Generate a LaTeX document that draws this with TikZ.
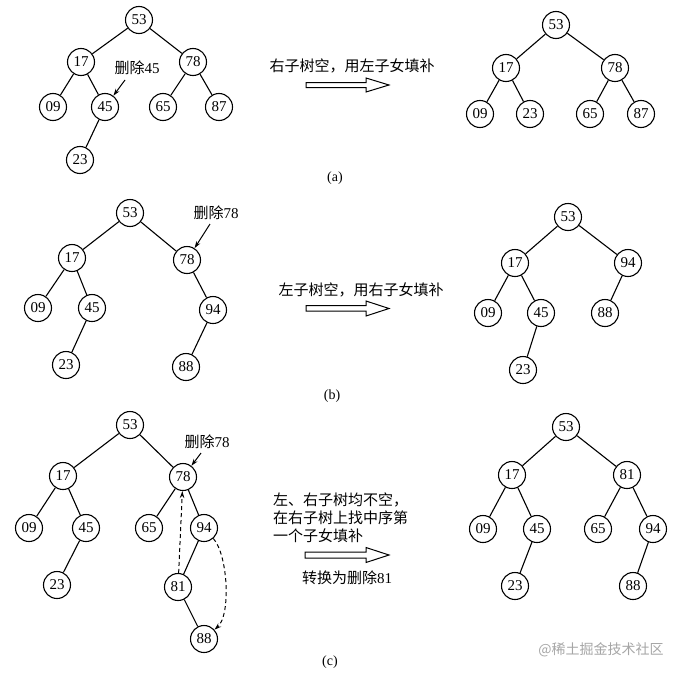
\documentclass[tikz,border=0pt]{standalone}
\usepackage{fontspec}
\setmainfont{Liberation Serif}
\newfontfamily\cjk{Noto Sans CJK SC}
\usetikzlibrary{arrows.meta}
\tikzset{
  nd/.style={circle,draw,line width=1.1pt,inner sep=0pt,minimum size=27pt,font=\fontsize{15}{15}\selectfont},
  ed/.style={line width=1.1pt},
  ptr/.style={line width=1pt,-{Stealth[length=7pt,width=4.5pt]}},
  dsh/.style={line width=1pt,dash pattern=on 4pt off 3pt,-{Stealth[length=7pt,width=4.5pt]}},
  lbl/.style={font=\cjk\fontsize{15}{15}\selectfont,inner sep=0pt},
  figcap/.style={font=\fontsize{14}{14}\selectfont,inner sep=0pt},
  hollow/.style={draw,line width=1pt,fill=white},
}
\begin{document}
\begin{tikzpicture}[x=1pt,y=-1pt]
\useasboundingbox (0,0) rectangle (684,677);
\fill[white] (0,0) rectangle (684,677);
% ---------- (a) left
\node[nd] (a53) at (139,20) {53};
\node[nd] (a17) at (81,62) {17};
\node[nd] (a78) at (193,62) {78};
\node[nd] (a09) at (53,107) {09};
\node[nd] (a45) at (105,107) {45};
\node[nd] (a65) at (163,107) {65};
\node[nd] (a87) at (219,107) {87};
\node[nd] (a23) at (80,160) {23};
\draw[ed] (a53)--(a17) (a53)--(a78) (a17)--(a09) (a17)--(a45) (a78)--(a65) (a78)--(a87) (a45)--(a23);
\node[lbl] (ad) at (137,68) {删除\fontspec{Liberation Serif}45};
\coordinate (ap) at (125,80);
\draw[ptr] (ap) -- (a45);
% arrow (a)
\node[lbl] (at) at (352,66) {右子树空，用左子女填补};
\draw[hollow] (306,82.5) -- (366,82.5) -- (366,78) -- (389,85) -- (366,92) -- (366,87.5) -- (306,87.5) -- cycle;
\node[figcap] (acap) at (335,178) {(a)};
% ---------- (a) right
\node[nd] (ra53) at (556,25) {53};
\node[nd] (ra17) at (506,68) {17};
\node[nd] (ra78) at (615,68) {78};
\node[nd] (ra09) at (480,114) {09};
\node[nd] (ra23) at (530,114) {23};
\node[nd] (ra65) at (590,114) {65};
\node[nd] (ra87) at (641,114) {87};
\draw[ed] (ra53)--(ra17) (ra53)--(ra78) (ra17)--(ra09) (ra17)--(ra23) (ra78)--(ra65) (ra78)--(ra87);
% ---------- (b) left
\node[nd] (b53) at (130,213) {53};
\node[nd] (b17) at (72,258) {17};
\node[nd] (b78) at (187,260) {78};
\node[nd] (b09) at (38,308) {09};
\node[nd] (b45) at (92,308) {45};
\node[nd] (b94) at (213,310) {94};
\node[nd] (b23) at (66,365) {23};
\node[nd] (b88) at (186,367) {88};
\draw[ed] (b53)--(b17) (b53)--(b78) (b17)--(b09) (b17)--(b45) (b45)--(b23) (b78)--(b94) (b94)--(b88);
\node[lbl] (bd) at (216,213) {删除\fontspec{Liberation Serif}78};
\coordinate (bp) at (210,224);
\draw[ptr] (bp) -- (b78);
% arrow (b)
\node[lbl] (bt) at (361,290) {左子树空，用右子女填补};
\draw[hollow] (306,305.5) -- (366,305.5) -- (366,301) -- (389,308.5) -- (366,316) -- (366,311) -- (306,311) -- cycle;
\node[figcap] (bcap) at (332,396) {(b)};
% ---------- (b) right
\node[nd] (rb53) at (568,217) {53};
\node[nd] (rb17) at (515,263) {17};
\node[nd] (rb94) at (628,263) {94};
\node[nd] (rb09) at (488,313) {09};
\node[nd] (rb45) at (541,313) {45};
\node[nd] (rb88) at (605,313) {88};
\node[nd] (rb23) at (523,370) {23};
\draw[ed] (rb53)--(rb17) (rb53)--(rb94) (rb17)--(rb09) (rb17)--(rb45) (rb45)--(rb23) (rb94)--(rb88);
% ---------- (c) left
\node[nd] (c53) at (130,425) {53};
\node[nd] (c17) at (63,476) {17};
\node[nd] (c78) at (183,477) {78};
\node[nd] (c09) at (29,528) {09};
\node[nd] (c45) at (86,528) {45};
\node[nd] (c65) at (149,528) {65};
\node[nd] (c94) at (204,528) {94};
\node[nd] (c23) at (57,585) {23};
\node[nd] (c81) at (178,587) {81};
\node[nd] (c88) at (204,639) {88};
\draw[ed] (c53)--(c17) (c53)--(c78) (c17)--(c09) (c17)--(c45) (c45)--(c23) (c78)--(c65) (c78)--(c94) (c94)--(c81) (c81)--(c88);
\node[lbl] (cd) at (207,442) {删除\fontspec{Liberation Serif}78};
\coordinate (cp) at (201,453);
\draw[ptr] (cp) -- (c78);
\draw[dsh] (c81) -- (c78);
\draw[dsh] (c94) .. controls (228,555) and (231,615) .. (c88);
% arrow (c)
\node[lbl,align=left,anchor=north west,font=\cjk\fontsize{15}{18}\selectfont] (ct) at (273,493) {左、右子树均不空，\\在右子树上找中序第\\一个子女填补};
\draw[hollow] (305,552) -- (366,552) -- (366,547.5) -- (389,555) -- (366,562.5) -- (366,558) -- (305,558) -- cycle;
\node[lbl] (ct2) at (347,578) {转换为删除\fontspec{Liberation Serif}81};
\node[figcap] (ccap) at (330,662) {(c)};
% ---------- (c) right
\node[nd] (rc53) at (566,427) {53};
\node[nd] (rc17) at (512,475) {17};
\node[nd] (rc81) at (627,475) {81};
\node[nd] (rc09) at (483,529) {09};
\node[nd] (rc45) at (537,529) {45};
\node[nd] (rc65) at (598,529) {65};
\node[nd] (rc94) at (653,529) {94};
\node[nd] (rc23) at (515,586) {23};
\node[nd] (rc88) at (633,586) {88};
\draw[ed] (rc53)--(rc17) (rc53)--(rc81) (rc17)--(rc09) (rc17)--(rc45) (rc45)--(rc23) (rc81)--(rc65) (rc81)--(rc94) (rc94)--(rc88);
% watermark
\node[lbl,text=black!35,font=\cjk\fontsize{14}{14}\selectfont] (wm) at (601,650) {@稀土掘金技术社区};
\end{tikzpicture}
\end{document}
